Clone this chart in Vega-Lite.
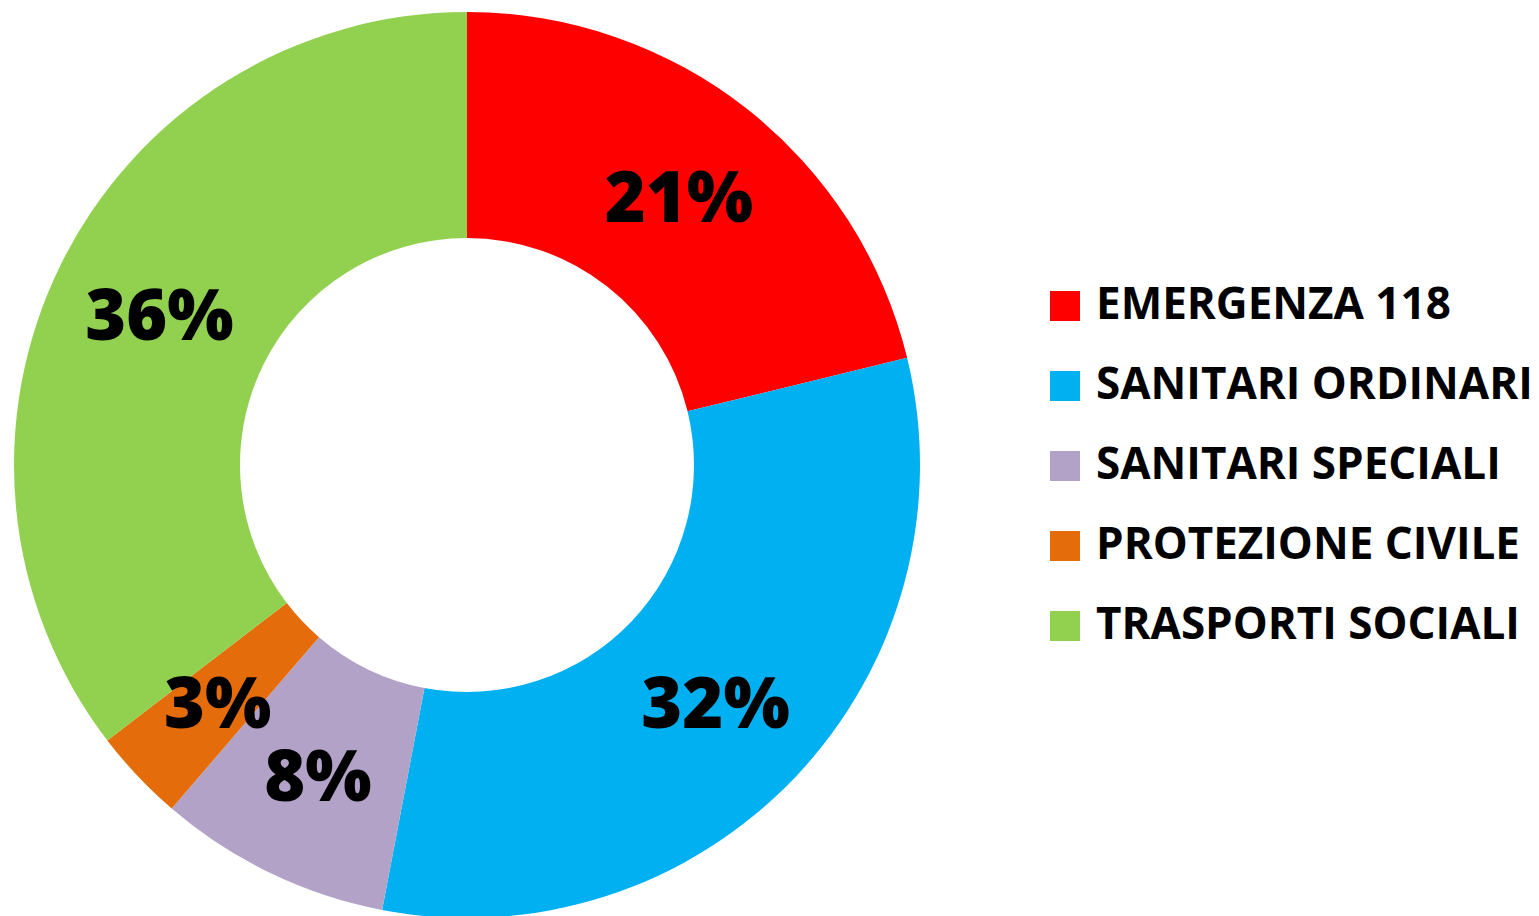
{
  "$schema": "https://vega.github.io/schema/vega-lite/v6.json",
  "width": 934,
  "height": 930,
  "padding": 0,
  "autosize": {"type": "pad"},
  "background": "white",
  "data": {
    "values": [
      {"cat": "EMERGENZA 118", "value": 21.2, "label": "21%", "ord": 1},
      {"cat": "SANITARI ORDINARI", "value": 31.8, "label": "32%", "ord": 2},
      {"cat": "SANITARI SPECIALI", "value": 8.3, "label": "8%", "ord": 3},
      {"cat": "PROTEZIONE CIVILE", "value": 3.3, "label": "3%", "ord": 4},
      {"cat": "TRASPORTI SOCIALI", "value": 35.4, "label": "36%", "ord": 5}
    ]
  },
  "encoding": {
    "theta": {"field": "value", "type": "quantitative", "stack": true},
    "order": {"field": "ord", "type": "quantitative"}
  },
  "layer": [
    {
      "mark": {"type": "arc", "outerRadius": 453, "innerRadius": 227},
      "encoding": {
        "color": {
          "field": "cat",
          "type": "nominal",
          "scale": {
            "domain": ["EMERGENZA 118", "SANITARI ORDINARI", "SANITARI SPECIALI", "PROTEZIONE CIVILE", "TRASPORTI SOCIALI"],
            "range": ["#FF0000", "#00B0F0", "#B2A2C7", "#E46C0A", "#92D050"]
          },
          "legend": {
            "title": null,
            "orient": "none",
            "legendX": 1043,
            "legendY": 284,
            "padding": 0,
            "symbolType": "square",
            "symbolSize": 900,
            "symbolStrokeWidth": 0,
            "symbolOpacity": 1,
            "labelFont": "Open Sans",
            "labelFontWeight": 700,
            "labelFontSize": 44,
            "labelColor": "black",
            "labelOffset": 9,
            "labelLimit": 600,
            "rowPadding": 36
          }
        }
      }
    },
    {
      "mark": {"type": "text", "radius": 343, "dy": 6, "font": "Open Sans", "fontWeight": 800, "fontSize": 70, "color": "black", "align": "center", "baseline": "middle"},
      "encoding": {
        "text": {"field": "label", "type": "nominal"}
      }
    }
  ]
}
